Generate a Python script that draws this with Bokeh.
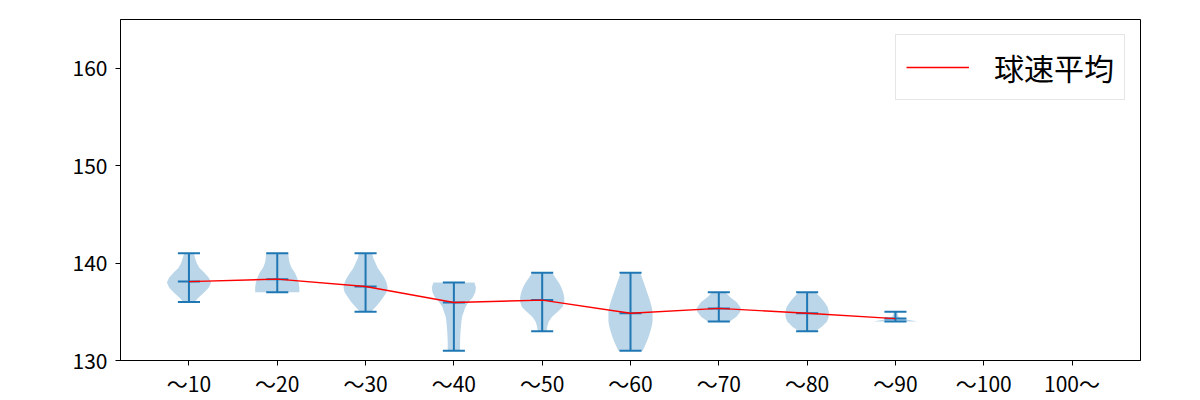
from bokeh.plotting import figure
from bokeh.models import ColumnDataSource, FixedTicker, Range1d
from bokeh.embed import file_html
from bokeh.resources import INLINE

# ---- data ----
categories = ["〜10", "〜20", "〜30", "〜40", "〜50", "〜60", "〜70", "〜80", "〜90", "〜100", "100〜"]
positions = [1, 2, 3, 4, 5, 6, 7, 8, 9, 10, 11]

speed_min = [136, 137, 135, 131, 133, 131, 134, 133, 134]
speed_max = [141, 141, 141, 138, 139, 139, 137, 137, 135]
speed_mean = [138.1, 138.35, 137.6, 135.95, 136.2, 134.85, 135.35, 134.85, 134.3]

# violin profiles: speed levels and relative half-widths (1.0 = widest)
v1_levels = [136, 136.5, 137, 137.5, 138, 138.5, 139, 139.5, 140, 140.5, 141]
v1_widths = [0.25, 0.45, 0.7, 0.9, 1.0, 0.9, 0.7, 0.48, 0.35, 0.28, 0.22]
v2_levels = [137, 137.5, 138, 138.5, 139, 139.5, 140, 140.5, 141]
v2_widths = [1.0, 1.0, 0.97, 0.9, 0.8, 0.65, 0.56, 0.52, 0.5]
v3_levels = [135, 135.5, 136, 136.5, 137, 137.5, 138, 138.5, 139, 139.5, 140, 140.5, 141]
v3_widths = [0.25, 0.45, 0.65, 0.8, 0.95, 1.0, 0.95, 0.85, 0.7, 0.55, 0.45, 0.35, 0.3]
v4_levels = [131, 131.5, 132, 132.5, 133, 133.5, 134, 134.5, 135, 135.5, 136, 136.5, 137, 137.5, 138]
v4_widths = [0.28, 0.28, 0.28, 0.29, 0.3, 0.32, 0.34, 0.37, 0.45, 0.52, 0.67, 0.86, 0.97, 1.0, 0.93]
v5_levels = [133, 133.5, 134, 134.5, 135, 135.5, 136, 136.5, 137, 137.5, 138, 138.5, 139]
v5_widths = [0.2, 0.23, 0.3, 0.45, 0.7, 0.92, 1.0, 1.0, 0.95, 0.87, 0.75, 0.6, 0.45]
v6_levels = [131, 131.5, 132, 132.5, 133, 133.5, 134, 134.5, 135, 135.5, 136, 136.5, 137, 137.5, 138, 138.5, 139]
v6_widths = [0.55, 0.65, 0.75, 0.83, 0.9, 0.96, 1.0, 1.0, 1.0, 0.96, 0.9, 0.83, 0.75, 0.68, 0.6, 0.52, 0.45]
v7_levels = [134, 134.5, 135, 135.3, 135.5, 136, 136.5, 137]
v7_widths = [0.5, 0.8, 0.97, 1.0, 0.97, 0.8, 0.52, 0.3]
v8_levels = [133, 133.5, 134, 134.5, 135, 135.5, 136, 136.5, 137]
v8_widths = [0.38, 0.68, 0.9, 0.98, 0.98, 0.93, 0.78, 0.6, 0.38]
v9_levels = [134, 134.1, 134.2, 134.3, 134.5, 134.75, 135]
v9_widths = [1.0, 0.75, 0.5, 0.3, 0.15, 0.1, 0.08]

violin_levels = [v1_levels, v2_levels, v3_levels, v4_levels, v5_levels, v6_levels, v7_levels, v8_levels, v9_levels]
violin_widths = [v1_widths, v2_widths, v3_widths, v4_widths, v5_widths, v6_widths, v7_widths, v8_widths, v9_widths]

legend_label = "球速平均"
y_ticks = [130, 140, 150, 160]

FONT = "Noto Sans CJK JP"
BLUE = "#1f77b4"
HALF = 0.25  # matplotlib violin half width

p = figure(frame_width=1020, frame_height=341,
           x_range=Range1d(0.225, 11.775), y_range=Range1d(130, 165),
           output_backend="svg", toolbar_location=None,
           min_border_left=120, min_border_right=44,
           min_border_top=19, min_border_bottom=10)

# violins
xs, ys = [], []
for pos, lv, wd in zip(positions, violin_levels, violin_widths):
    right = [pos + w * HALF for w in wd]
    left = [pos - w * HALF for w in wd]
    xs.append(right + left[::-1])
    ys.append(lv + lv[::-1])
p.patches(xs=xs, ys=ys, fill_color=BLUE, fill_alpha=0.3, line_color=None)

n = len(speed_min)
pos9 = positions[:n]
# vertical bars
p.segment(x0=pos9, y0=speed_min, x1=pos9, y1=speed_max, line_color=BLUE, line_width=2)
# caps and mean
for vals in (speed_min, speed_max, speed_mean):
    p.segment(x0=[x - HALF / 2 for x in pos9], y0=vals,
              x1=[x + HALF / 2 for x in pos9], y1=vals,
              line_color=BLUE, line_width=2)

p.line(pos9, speed_mean, line_color="red", line_width=1.4, legend_label=legend_label)

# axes
p.xgrid.visible = False
p.ygrid.visible = False
p.outline_line_color = "black"
p.outline_line_width = 1
p.outline_line_alpha = 1

p.xaxis.ticker = FixedTicker(ticks=positions)
p.xaxis.major_label_overrides = {pos: lab for pos, lab in zip(positions, categories)}
p.yaxis.ticker = FixedTicker(ticks=y_ticks)
for ax in (p.xaxis, p.yaxis):
    ax.axis_line_color = "black"
    ax.major_tick_line_color = "black"
    ax.major_tick_out = 5
    ax.major_tick_in = 0
    ax.minor_tick_line_color = None
    ax.major_label_text_font = FONT
    ax.major_label_text_font_size = "21px"
    ax.major_label_text_color = "black"
p.xaxis.major_label_standoff = 2
p.yaxis.major_label_standoff = 8

# legend
lg = p.legend[0]
lg.location = "top_right"
lg.margin = 15
lg.padding = 10
lg.glyph_width = 63
lg.label_standoff = 25
lg.label_text_font = FONT
lg.label_text_font_size = "30px"
lg.label_text_color = "black"
lg.border_line_color = "#cccccc"
lg.border_line_width = 1
lg.background_fill_alpha = 0.8
lg.spacing = 0

open("out.html", "w").write(file_html(p, INLINE))
